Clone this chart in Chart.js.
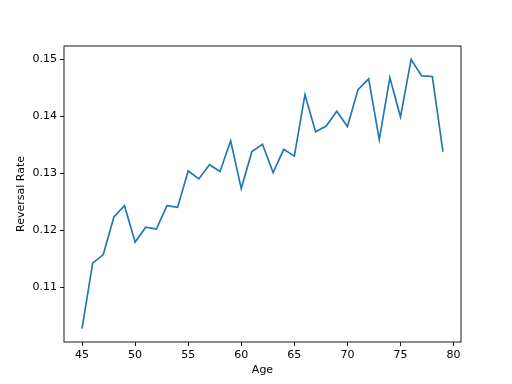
<!DOCTYPE html>
<html>
<head>
<meta charset="utf-8">
<script src="https://cdn.jsdelivr.net/npm/chart.js@4"></script>
<style>
html,body{margin:0;padding:0;background:#fff;}
#wrap{width:512px;height:384px;}
</style>
</head>
<body>
<div id="wrap"><canvas id="c" width="512" height="384"></canvas></div>
<script>
const ages = [45,46,47,48,49,50,51,52,53,54,55,56,57,58,59,60,61,62,63,64,65,66,67,68,69,70,71,72,73,74,75,76,77,78,79];
const reversalRate = [0.1027,0.1142,0.1157,0.1223,0.1243,0.1179,0.1205,0.1202,0.1243,0.1240,0.1304,0.1290,0.1315,0.1303,0.1357,0.1273,0.1338,0.1351,0.1301,0.1342,0.1330,0.1438,0.1373,0.1383,0.1409,0.1382,0.1447,0.1466,0.1359,0.1468,0.1399,0.1500,0.1471,0.1470,0.1338];
const xTicks = [45,50,55,60,65,70,75,80];
const yTicks = [0.11,0.12,0.13,0.14,0.15];

const CA = {left:64, right:461, top:46, bottom:342};
const W = 512, H = 384;
const FONT = 'DejaVu Sans';

const framePlugin = {
  id:'frame',
  afterDraw(chart){
    const {ctx, chartArea:a} = chart;
    ctx.save();
    ctx.strokeStyle = '#000';
    ctx.lineWidth = 0.9;
    ctx.strokeRect(a.left, a.top, a.right - a.left, a.bottom - a.top);
    ctx.restore();
  }
};

const xMin = 45 - 0.05*(79-45), xMax = 79 + 0.05*(79-45);
const yLo = Math.min(...reversalRate), yHi = Math.max(...reversalRate);
const yMin = yLo - 0.05*(yHi-yLo), yMax = yHi + 0.05*(yHi-yLo);

new Chart(document.getElementById('c'), {
  type:'line',
  data:{
    datasets:[{
      data: ages.map((a,i)=>({x:a, y:reversalRate[i]})),
      borderColor:'#1f77b4',
      borderWidth:1.67,
      pointRadius:0,
      fill:false,
      tension:0
    }]
  },
  options:{
    responsive:false,
    animation:false,
    events:[],
    layout:{padding:{left:0, top:CA.top, right:W-CA.right, bottom:0}},
    plugins:{legend:{display:false}, tooltip:{enabled:false}},
    scales:{
      x:{
        type:'linear',
        min:xMin, max:xMax,
        afterBuildTicks(s){ s.ticks = xTicks.map(v=>({value:v})); },
        afterFit(s){ s.height = H - CA.bottom; },
        grid:{drawOnChartArea:false, tickLength:4, color:'#000', lineWidth:0.9},
        border:{display:false},
        ticks:{color:'#000', padding:3, maxRotation:0, autoSkip:false,
          font:{family:FONT, size:11}, callback:v=>String(v)},
        title:{display:true, text:'Age', color:'#000',
          font:{family:FONT, size:11}, padding:{top:0,bottom:7}}
      },
      y:{
        type:'linear',
        min:yMin, max:yMax,
        afterBuildTicks(s){ s.ticks = yTicks.map(v=>({value:v})); },
        afterFit(s){ s.width = CA.left; },
        grid:{drawOnChartArea:false, tickLength:4, color:'#000', lineWidth:0.9},
        border:{display:false},
        ticks:{color:'#000', padding:3, autoSkip:false,
          font:{family:FONT, size:11}, callback:v=>v.toFixed(2)},
        title:{display:true, text:'Reversal Rate', color:'#000',
          font:{family:FONT, size:11}, padding:{top:15,bottom:0}}
      }
    }
  },
  plugins:[framePlugin]
});
</script>
</body>
</html>
